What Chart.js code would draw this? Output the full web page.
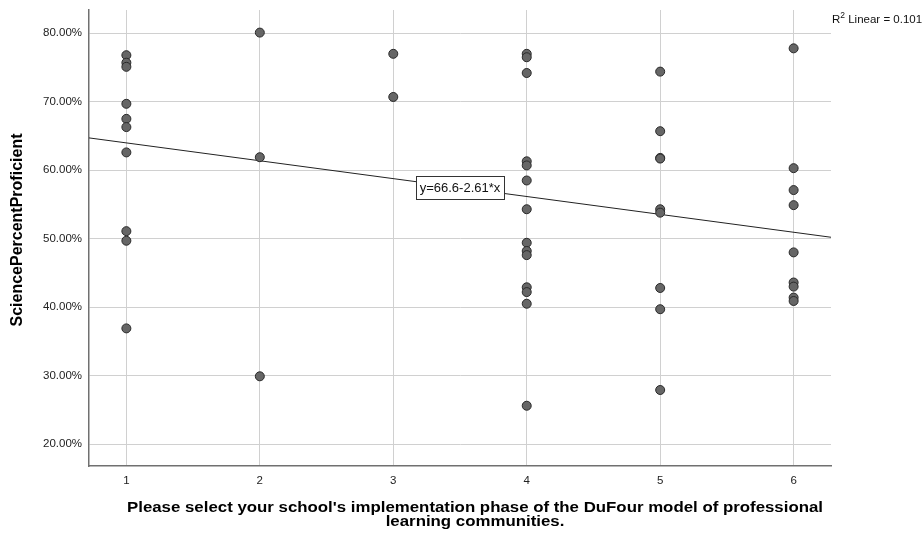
<!DOCTYPE html>
<html>
<head>
<meta charset="utf-8">
<script src="https://cdn.jsdelivr.net/npm/chart.js@4.4.1/dist/chart.umd.min.js"></script>
<style>
  html, body { margin: 0; padding: 0; background: #fff; }
  #wrap { width: 924px; height: 540px; }
</style>
</head>
<body>
<div id="wrap"><canvas id="myChart" width="924" height="540"></canvas></div>
<script>
// implementation phase (x) -> science percent proficient values
var phases = [1, 2, 3, 4, 5, 6];
var phase1 = [76.8, 75.7, 75.1, 69.7, 67.5, 66.3, 62.6, 51.1, 49.7, 36.9];
var phase2 = [80.1, 61.9, 29.9];
var phase3 = [77.0, 70.7];
var phase4 = [77.0, 76.5, 74.2, 61.3, 60.7, 58.5, 54.3, 49.4, 48.2, 47.6, 42.9, 42.2, 40.5, 25.6];
var phase5 = [74.4, 65.7, 61.8, 61.7, 54.3, 53.8, 42.8, 39.7, 27.9];
var phase6 = [77.8, 60.3, 57.1, 54.9, 48.0, 43.6, 43.0, 41.4, 40.9];
var yTicks = [20, 30, 40, 50, 60, 70, 80];

var xTitle = ["Please select your school's implementation phase of the DuFour model of professional", "learning communities."];
var yTitle = "SciencePercentProficient";

// fit line as printed on the chart
var fitIntercept = 66.6;
var fitSlope = -2.61;
var rSquared = "0.101";

var xMin = 0.72, xMax = 6.28;
var yMin = 16.8, yMax = 83.4;

var allPhases = [phase1, phase2, phase3, phase4, phase5, phase6];
var points = [];
allPhases.forEach(function (vals, i) {
    vals.forEach(function (v) { points.push({x: phases[i], y: v}); });
});

var fitLine = [xMin, xMax].map(function (x) {
    return {x: x, y: fitIntercept + fitSlope * x};
});

var fontFam = "'Liberation Sans', Arial, sans-serif";

<!-- annotations: equation box, R2 text, axis titles -->
var annotations = {
    id: 'annotations',
    afterDatasetsDraw: function (chart) {
        var ctx = chart.ctx;
        var xs = chart.scales.x, ys = chart.scales.y;
        ctx.save();
        // equation box
        var label = "y=" + fitIntercept + (fitSlope < 0 ? "-" : "+") + Math.abs(fitSlope) + "*x";
        ctx.font = "13px " + fontFam;
        var w = Math.round(ctx.measureText(label).width + 7);
        var h = 23;
        var cx = xs.getPixelForValue(3.5), cy = ys.getPixelForValue(57.5);
        var bx = Math.round(cx - w / 2) + 0.5, by = Math.round(cy - h / 2) + 0.5;
        ctx.fillStyle = '#fff';
        ctx.fillRect(bx, by, w, h);
        ctx.strokeStyle = '#333';
        ctx.lineWidth = 1;
        ctx.strokeRect(bx, by, w, h);
        ctx.fillStyle = '#111';
        ctx.textBaseline = 'middle';
        ctx.textAlign = 'center';
        ctx.fillText(label, cx, cy + 1);

        // R2 linear
        var rx = chart.chartArea.right + 1, ry = 20;
        ctx.textAlign = 'left';
        ctx.font = "11.5px " + fontFam;
        ctx.fillText("R", rx, ry);
        var rw = ctx.measureText("R").width;
        ctx.font = "8.5px " + fontFam;
        ctx.fillText("2", rx + rw, ry - 4);
        var sw = ctx.measureText("2").width;
        ctx.font = "11.5px " + fontFam;
        ctx.fillText(" Linear = " + rSquared, rx + rw + sw, ry);

        // x title, stretched a little wider like the original
        ctx.fillStyle = '#000';
        ctx.textAlign = 'center';
        ctx.font = "bold 15px " + fontFam;
        var stretch = 696 / ctx.measureText(xTitle[0]).width;
        ctx.save();
        ctx.translate(475, 0);
        ctx.scale(stretch, 1);
        ctx.fillText(xTitle[0], 0, 507.5);
        ctx.fillText(xTitle[1], 0, 522);
        ctx.restore();

        // y title
        ctx.translate(18, 230);
        ctx.rotate(-Math.PI / 2);
        ctx.font = "bold 16px " + fontFam;
        ctx.fillText(yTitle, 0, 0);
        ctx.restore();
    }
};

new Chart(document.getElementById("myChart"), {
    type: 'scatter',
    data: {
        datasets: [
            {
                type: 'line',
                data: fitLine,
                borderColor: '#222',
                borderWidth: 1,
                pointRadius: 0,
                fill: false,
                order: 2
            },
            {
                data: points,
                backgroundColor: '#666',
                borderColor: '#2a2a2a',
                borderWidth: 1,
                pointRadius: 4.5,
                order: 1
            }
        ]
    },
    options: {
        responsive: false,
        animation: false,
        layout: {padding: {top: 10, right: 93, left: 0, bottom: 0}},
        plugins: {legend: {display: false}, tooltip: {enabled: false}},
        scales: {
            x: {
                type: 'linear',
                min: xMin,
                max: xMax,
                afterBuildTicks: function (s) { s.ticks = phases.map(function (v) { return {value: v}; }); },
                afterFit: function (s) { s.height = 74; s.paddingLeft = 0; s.paddingRight = 0; },
                grid: {color: '#d0d0d0', drawTicks: false},
                border: {color: '#707070', width: 1.5},
                ticks: {
                    padding: 8,
                    color: '#222',
                    font: {family: fontFam, size: 11.5},
                    callback: function (v) { return v; }
                }
            },
            y: {
                min: yMin,
                max: yMax,
                afterBuildTicks: function (s) { s.ticks = yTicks.map(function (v) { return {value: v}; }); },
                afterFit: function (s) { s.width = 89; s.paddingTop = 0; s.paddingBottom = 0; },
                grid: {color: '#d0d0d0', drawTicks: false},
                border: {color: '#707070', width: 1.5},
                ticks: {
                    padding: 7,
                    color: '#222',
                    font: {family: fontFam, size: 11.5},
                    callback: function (v) { return v.toFixed(2) + '%'; }
                }
            }
        }
    },
    plugins: [annotations]
});
</script>
</body>
</html>
